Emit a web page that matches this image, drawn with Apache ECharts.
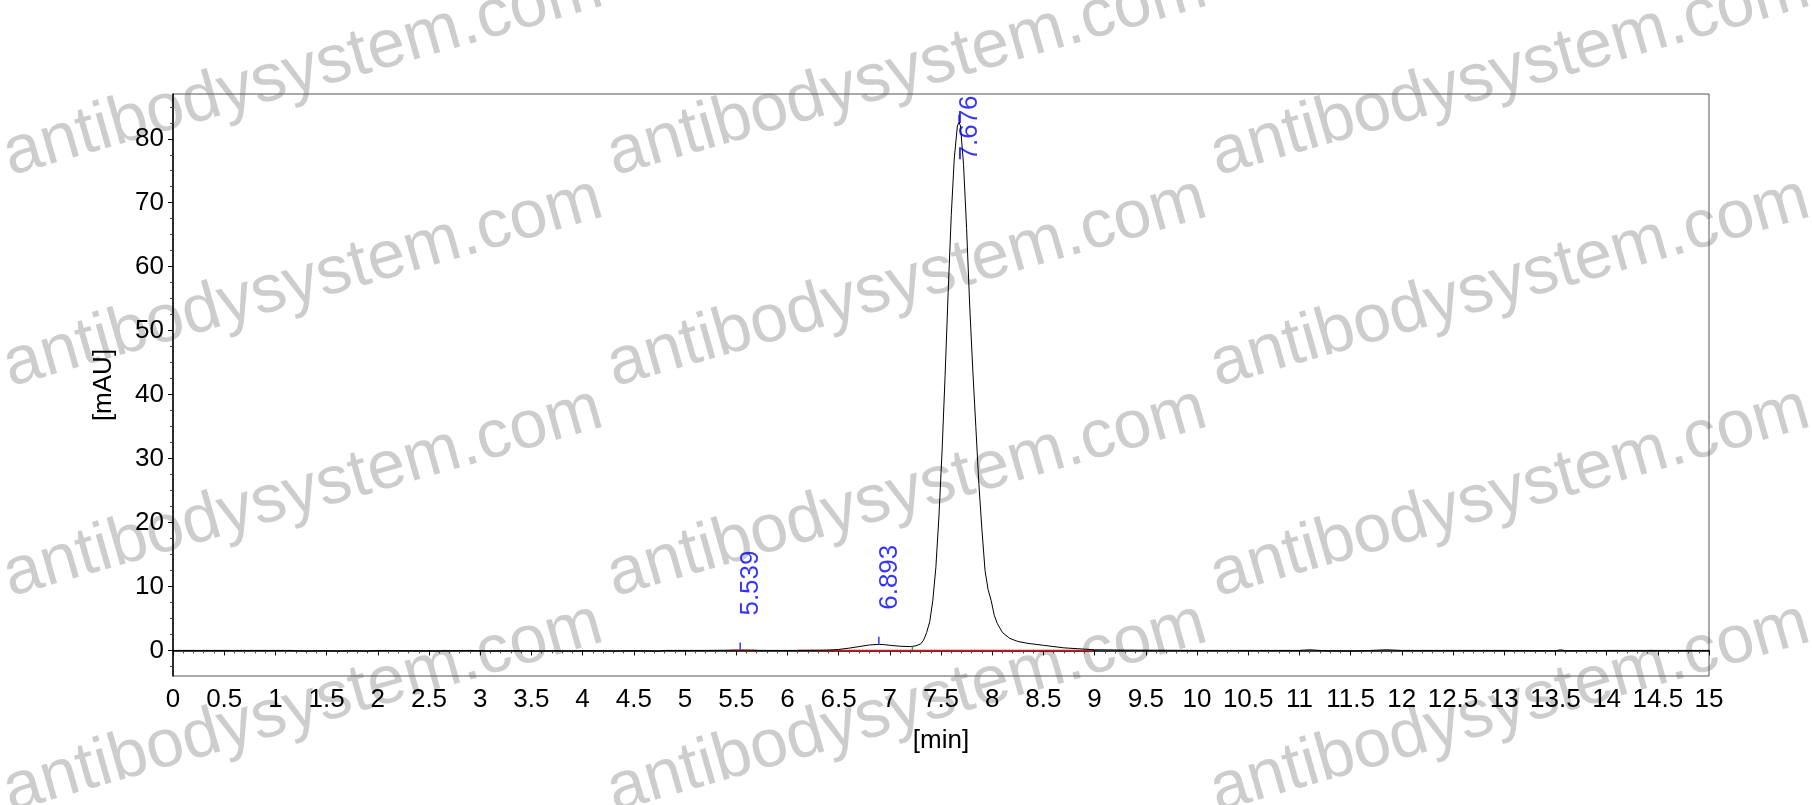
<!DOCTYPE html>
<html>
<head>
<meta charset="utf-8">
<script src="https://cdn.jsdelivr.net/npm/echarts@6/dist/echarts.min.js"></script>
<style>
html,body{margin:0;padding:0;background:#fff;}
#chart{width:1812px;height:805px;}
</style>
</head>
<body>
<div id="chart"></div>
<script>
// ---- data ----
const times = [
  0, 0.5, 1.0, 1.15, 1.2, 1.35, 1.45, 1.6, 1.75, 1.9, 2.0, 2.3, 2.6, 2.9, 3.1, 3.3, 3.5, 3.7, 3.9, 4.1, 4.3, 4.5, 4.75, 4.8,
  5.2, 5.539, 5.8, 6.1, 6.3, 6.4, 6.5, 6.6, 6.7, 6.8, 6.893, 6.95, 7.0, 7.1, 7.2, 7.25, 7.3, 7.33, 7.36, 7.39, 7.42, 7.45,
  7.48, 7.51, 7.54, 7.57, 7.6, 7.63, 7.66, 7.676, 7.69, 7.72, 7.75, 7.78, 7.81, 7.84, 7.87, 7.9, 7.93, 7.96, 7.99, 8.02,
  8.05, 8.1, 8.17, 8.25, 8.35, 8.5, 8.7, 9.0, 9.3, 9.6, 10.0, 10.5, 11.0, 11.1, 11.2, 11.3, 11.5, 11.7, 11.85, 12.0,
  13.0, 13.5, 13.55, 13.6, 14.0, 15.0
];
const signal = [
  0, 0, 0, 0, -0.05, -0.1, -0.05, -0.1, -0.05, -0.1, 0, -0.05, -0.08, 0, -0.1, -0.05, -0.1, -0.08, -0.1, -0.05, -0.1, -0.05, -0.12, 0,
  0, 0.05, 0, 0, 0.02, 0.05, 0.15, 0.35, 0.6, 0.85, 0.95, 0.9, 0.8, 0.65, 0.6, 0.7, 1.0, 1.6, 2.8, 4.5, 7.8, 13,
  21, 31, 43, 56, 68, 77, 82, 82.6, 82, 76, 66, 54, 44, 35, 26, 18.8, 12.5, 9.5, 7.8, 5.5,
  4.2, 2.8, 1.9, 1.4, 1.1, 0.8, 0.4, 0.1, 0.05, 0.03, 0, 0, 0, 0.1, 0, -0.05, -0.1, 0, 0.1, 0,
  0, -0.05, 0.1, -0.05, 0, 0
];
const peakTimes = [5.539, 6.893, 7.676];
const peakHeights = [0.05, 0.95, 82.6];
const peakLabels = ['5.539', '6.893', '7.676'];
const baselineStarts = [5.44, 6.10];
const baselineEnds = [5.69, 8.98];
const valleyTimes = [7.22];
const valleyHeights = [0.6];
const yTickLabels = [0, 10, 20, 30, 40, 50, 60, 70, 80];
const xMin = 0, xMax = 15, xStep = 0.5;
const yMin = -4, yMax = 87;

// ---- derived ----
const curve = times.map((t, i) => [t, signal[i]]);
const labelGapUnits = 5.4, labelLenUnits = 10.4;
const labelPts = peakTimes.map((t, i) => ({
  value: [t, Math.min(peakHeights[i] + labelGapUnits, yMax - labelLenUnits)],
  label: { formatter: peakLabels[i] }
}));
const minorY = [];
for (let v = -2.5; v <= yMax; v += 2.5) { if (v % 10 !== 0) minorY.push(v); }

const FONT = '"Liberation Sans", Arial, sans-serif';
const redSeries = baselineStarts.map((s, i) => ({
  type: 'line', data: [[s, 0], [baselineEnds[i], 0]], symbol: 'none', silent: true,
  lineStyle: { color: '#ff0000', width: 1.2 }, z: 1
}));

const wmText = 'antibodysystem.com';
const wmCols = [303, 907, 1510];
const wmRows = [72, 283, 493, 708];
const watermark = [];
wmCols.forEach(cx => wmRows.forEach(cy => {
  watermark.push({
    type: 'text', x: cx, y: cy, rotation: 16 * Math.PI / 180, z: -10, silent: true,
    style: { text: wmText, fill: '#cdcdcd', font: '68px ' + FONT, align: 'center', verticalAlign: 'middle' }
  });
}));

const chart = echarts.init(document.getElementById('chart'));
chart.setOption({
  backgroundColor: '#ffffff',
  animation: false,
  graphic: watermark,
  grid: { left: 173, right: 103, top: 94, bottom: 129, show: true, borderColor: '#555', borderWidth: 1, backgroundColor: 'transparent' },
  xAxis: {
    type: 'value', min: xMin, max: xMax, interval: xStep,
    name: '[min]', nameLocation: 'middle', nameGap: 52,
    nameTextStyle: { fontFamily: FONT, fontSize: 26, color: '#000' },
    axisLine: { lineStyle: { color: '#000', width: 1.5 } },
    axisTick: { show: true, inside: false, length: 5, lineStyle: { color: '#000' } },
    minorTick: { show: true, splitNumber: 5, length: 3, lineStyle: { color: '#444' } },
    axisLabel: { fontFamily: FONT, fontSize: 26, color: '#000', margin: 11 },
    splitLine: { show: false }
  },
  yAxis: [{
    type: 'value', min: yMin, max: yMax,
    name: '[mAU]', nameLocation: 'middle', nameGap: 56, nameRotate: 90,
    nameTextStyle: { fontFamily: FONT, fontSize: 26, color: '#000' },
    axisLine: { show: true, lineStyle: { color: '#000', width: 1.5 } },
    axisTick: { show: true, inside: false, length: 5, customValues: yTickLabels, lineStyle: { color: '#000' } },
    axisLabel: { fontFamily: FONT, fontSize: 26, color: '#000', margin: 9, customValues: yTickLabels },
    splitLine: { show: false }
  }, {
    type: 'value', min: yMin, max: yMax, position: 'left',
    axisLine: { show: false },
    axisTick: { show: true, inside: false, length: 3, customValues: minorY, lineStyle: { color: '#444' } },
    axisLabel: { show: false, customValues: minorY },
    splitLine: { show: false }
  }],
  series: [
    ...redSeries,
    {
      type: 'line', data: curve, symbol: 'none', silent: true, z: 3,
      lineStyle: { color: '#000', width: 1 }
    },
    {
      type: 'scatter', silent: true, z: 4,
      data: peakTimes.map((t, i) => [t, peakHeights[i]]),
      symbol: 'rect', symbolSize: [1.5, 7], symbolOffset: [0, -4],
      itemStyle: { color: '#0000ff' }
    },
    {
      type: 'scatter', silent: true, z: 4,
      data: valleyTimes.map((t, i) => [t, valleyHeights[i]]),
      symbol: 'rect', symbolSize: [1.2, 5], symbolOffset: [0, 2],
      itemStyle: { color: '#008000' }
    },
    {
      type: 'scatter', silent: true, z: 5,
      data: labelPts, symbolSize: 0,
      label: {
        show: true, position: [11, 0], rotate: 90, align: 'left', verticalAlign: 'middle',
        fontFamily: FONT, fontSize: 26, color: '#0000ff'
      }
    }
  ]
});
</script>
</body>
</html>
